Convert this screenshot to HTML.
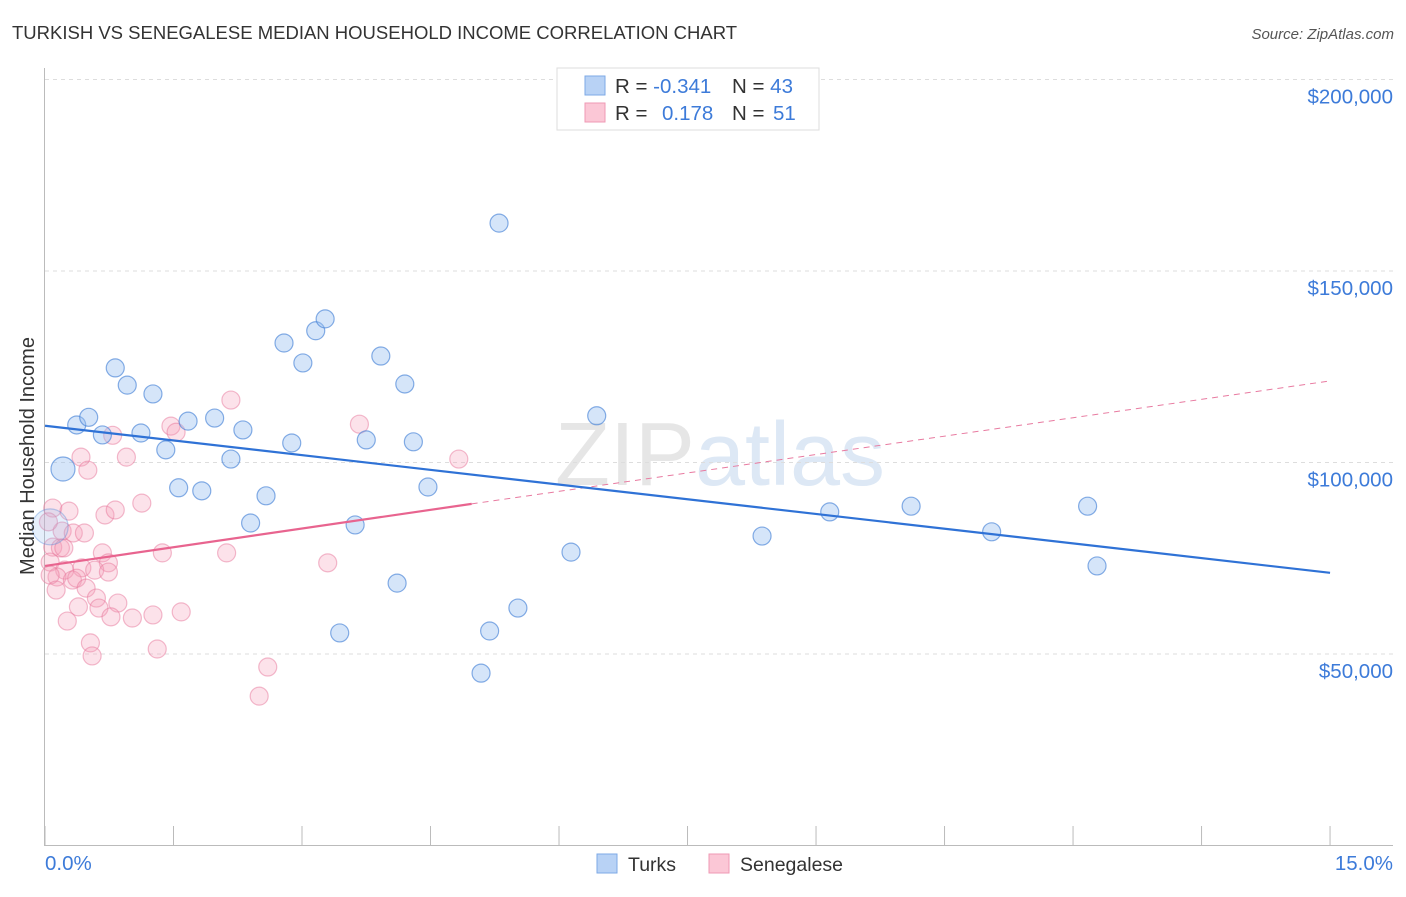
<!DOCTYPE html>
<html><head><meta charset="utf-8"><style>
body{margin:0;background:#fff;font-family:"Liberation Sans",sans-serif}
svg text{font-family:"Liberation Sans",sans-serif}
</style></head><body>
<svg width="1406" height="892" id="c">
<text x="12" y="39" font-size="18.5" fill="#333">TURKISH VS SENEGALESE MEDIAN HOUSEHOLD INCOME CORRELATION CHART</text>
<text x="1394" y="39" font-size="15" fill="#555" text-anchor="end" font-style="italic">Source: ZipAtlas.com</text>
<text x="720" y="485" font-size="90" fill="#e6e6e6" text-anchor="middle" font-family="Liberation Serif"><tspan>ZIP</tspan><tspan fill="#dde8f5" font-family="Liberation Sans">atlas</tspan></text>
<g id="grid"></g><g id="pts"></g><g id="lines"></g>
<text transform="translate(34,456) rotate(-90)" font-size="20" fill="#333" text-anchor="middle">Median Household Income</text>
<text x="45" y="870" font-size="20.5" fill="#3d7bd9">0.0%</text>
<text x="1393" y="870" font-size="20.5" fill="#3d7bd9" text-anchor="end">15.0%</text>
<g>
<rect x="557" y="68" width="262" height="62" fill="#fff" stroke="#ddd"/>
<rect x="585" y="76" width="20" height="19" fill="#b8d2f5" stroke="#7ea9e6"/>
<rect x="585" y="103" width="20" height="19" fill="#fbc7d6" stroke="#ef9ab4"/>
<text x="615" y="93" font-size="20.5" fill="#333">R = <tspan fill="#3d7bd9">-0.341</tspan><tspan x="732">N = </tspan><tspan fill="#3d7bd9">43</tspan></text>
<text x="615" y="120" font-size="20.5" fill="#333">R = <tspan x="662" fill="#3d7bd9">0.178</tspan><tspan x="732">N = </tspan><tspan x="773" fill="#3d7bd9">51</tspan></text>
</g>
<g>
<rect x="597" y="854" width="20" height="19" fill="#b8d2f5" stroke="#7ea9e6"/>
<text x="628" y="871" font-size="19.5" fill="#333">Turks</text>
<rect x="709" y="854" width="20" height="19" fill="#fbc7d6" stroke="#ef9ab4"/>
<text x="740" y="871" font-size="19.5" fill="#333">Senegalese</text>
</g>
</svg>
<script>
const yTicks=[50000,100000,150000,200000];
const yTickLabels=["$50,000","$100,000","$150,000","$200,000"];
const xTicks=[0,1.5,3,4.5,6,7.5,9,10.5,12,13.5,15];
const turksX=[0.21,0.37,0.51,0.67,0.82,0.96,1.12,1.26,1.41,1.56,1.67,1.83,1.98,2.17,2.31,2.40,2.58,2.79,2.88,3.01,3.16,3.27,3.44,3.62,3.75,3.92,4.11,4.20,4.30,4.47,5.09,5.19,5.30,5.52,6.14,6.44,8.37,9.16,10.11,11.05,12.17,12.28,0.06];
const turksY=[98300,109800,111800,107200,124700,120200,107700,117900,103300,93400,110800,92600,111600,100900,108500,84200,91300,131200,105100,126000,134400,137500,55500,83700,105900,127800,68500,120500,105400,93600,45000,56000,162500,62000,76600,112200,80800,87100,88600,81900,88600,73000,83200];
const turksR=[12,9,9,9,9,9,9,9,9,9,9,9,9,9,9,9,9,9,9,9,9,9,9,9,9,9,9,9,9,9,9,9,9,9,9,9,9,9,9,9,9,9,18];
const senX=[2.17,1.47,1.53,0.79,0.42,0.95,0.50,0.09,0.28,0.70,0.82,1.13,0.20,0.33,0.46,0.09,0.18,0.67,1.37,2.12,3.30,0.06,0.74,0.23,0.43,0.58,0.74,0.14,0.32,0.37,0.48,0.60,0.63,0.85,0.39,0.77,1.02,1.26,1.59,0.26,0.53,0.55,1.31,2.60,2.50,3.67,4.83,0.06,0.22,0.04,0.13];
const senY=[116.3,109.5,107.9,107.1,101.4,101.4,98.0,88.1,87.3,86.3,87.6,89.4,82.1,81.6,81.6,77.9,77.7,76.4,76.4,76.4,73.8,74.0,73.8,71.9,72.5,71.9,71.4,70.1,69.3,69.8,67.2,64.6,62.0,63.3,62.3,59.7,59.4,60.2,61.0,58.6,52.9,49.5,51.3,46.6,39.0,110.0,100.9,70.6,77.7,84.5,66.7].map(v=>v*1000);
const turksTrend=[[0,109600],[15,71200]];
const senTrendSolid=[[0,73000],[4.98,89200]];
const senTrendDash=[[4.98,89200],[15,121300]];
const X=v=>45+v*85.67, Y=v=>845.5-v/261.1;
const NS="http://www.w3.org/2000/svg";
function mk(t,a,p){const e=document.createElementNS(NS,t);for(const k in a)e.setAttribute(k,a[k]);p.appendChild(e);return e;}
const g=document.getElementById('grid');
yTicks.forEach((t,i)=>{
 const l=mk('line',{x1:45,x2:1393,y1:Y(t),y2:Y(t),stroke:'#ddd','stroke-dasharray':'4,4'},g);
 
 
 const tx=mk('text',{x:1393,y:Y(t)+24,'font-size':20.5,fill:'#3d7bd9','text-anchor':'end'},g);
 tx.textContent=yTickLabels[i];
 
 
});
const ay=mk('line',{x1:44.5,x2:44.5,y1:68,y2:846,stroke:'#bbb'},g);


const ax=mk('line',{x1:44,x2:1393,y1:845.5,y2:845.5,stroke:'#bbb'},g);


xTicks.forEach(t=>{const l=mk('line',{x1:X(t),x2:X(t),y1:826,y2:846,stroke:'#bbb'},g);
 
 });
const p=document.getElementById('pts');
senX.forEach((x,i)=>{const c=mk('circle',{cx:X(x),cy:Y(senY[i]),r:9,fill:'rgba(246,160,185,0.3)',stroke:'rgba(232,120,155,0.5)','stroke-width':1.2},p);
 
 });
turksX.forEach((x,i)=>{const c=mk('circle',{cx:X(x),cy:Y(turksY[i]),r:turksR[i],fill:i==42?'rgba(150,190,240,0.25)':'rgba(150,190,240,0.4)',stroke:i==42?'rgba(70,130,215,0.35)':'rgba(70,130,215,0.65)','stroke-width':1.2},p);
 
 });
const L=document.getElementById('lines');
function ln(d,s,w,da,n){const e=mk('line',{x1:X(d[0][0]),y1:Y(d[0][1]),x2:X(d[1][0]),y2:Y(d[1][1]),stroke:s,'stroke-width':w},L);if(da)e.setAttribute('stroke-dasharray',da);
 
 }
ln(senTrendDash,'#e87aa0',1,'6,5','senegalese-trend-extension');
ln(turksTrend,'#2f72d6',2.2,null,'turks-trend-line');
ln(senTrendSolid,'#e8648f',2.2,null,'senegalese-trend-line');
</script>
</body></html>
